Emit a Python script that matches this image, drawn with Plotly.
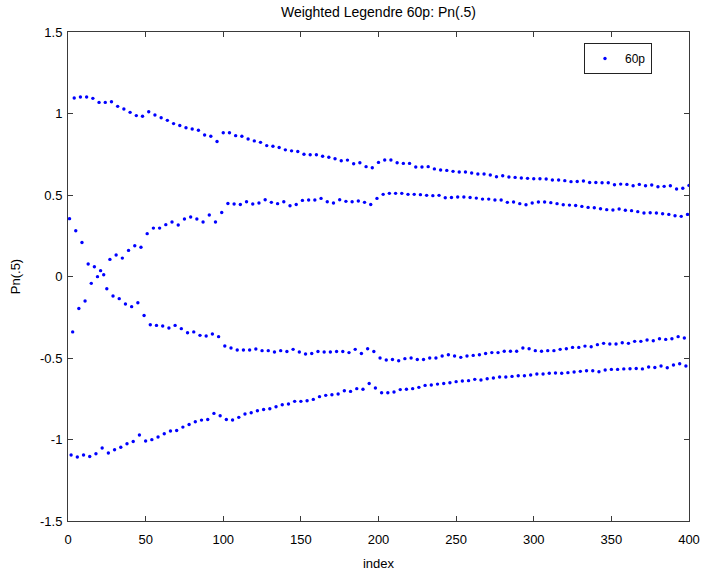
import plotly.graph_objects as go

# Pn(.5) samples split into the four interleaved branches (index n = start, start+4, ...)
top_start = 4
top_vals = [
    1.095, 1.101, 1.101, 1.093, 1.068, 1.068, 1.072, 1.044, 1.028, 1.007,
    0.987, 0.983, 1.011, 0.991, 0.974, 0.958, 0.938, 0.926, 0.913, 0.905,
    0.897, 0.868, 0.860, 0.828,
    0.882, 0.882, 0.864, 0.860, 0.844, 0.832, 0.823, 0.803, 0.799, 0.791,
    0.777, 0.771, 0.767, 0.750, 0.747, 0.747, 0.738, 0.732, 0.722, 0.710,
    0.714, 0.692, 0.698, 0.674, 0.667,
    0.700, 0.715, 0.715, 0.698, 0.694, 0.694, 0.672, 0.672, 0.674, 0.660,
    0.653, 0.651, 0.645, 0.641, 0.641, 0.635, 0.629, 0.629, 0.623, 0.612,
    0.618, 0.610, 0.608, 0.604, 0.602, 0.600, 0.600, 0.598, 0.592, 0.592,
    0.588, 0.582, 0.583, 0.586, 0.577, 0.577, 0.575, 0.575, 0.563, 0.567,
    0.565, 0.557, 0.565, 0.557, 0.561, 0.551, 0.553, 0.557, 0.537, 0.541,
    0.559,
]

rise_start = 3
rise_vals = [
    -0.340, -0.196, -0.150, -0.042, -0.001, 0.011, 0.105, 0.132, 0.113, 0.160,
    0.189, 0.179, 0.263, 0.297, 0.297, 0.318, 0.334, 0.316, 0.353, 0.365,
    0.353, 0.334, 0.377, 0.334,
    0.393, 0.448, 0.445, 0.442, 0.459, 0.445, 0.451, 0.471, 0.455, 0.447,
    0.459, 0.434, 0.442, 0.467, 0.469, 0.469, 0.479, 0.459, 0.451, 0.471,
    0.461, 0.459, 0.463, 0.455, 0.442, 0.479,
    0.504, 0.510, 0.510, 0.510, 0.504, 0.504, 0.502, 0.498, 0.496, 0.498,
    0.483, 0.485, 0.488, 0.488, 0.485, 0.481, 0.475, 0.475, 0.469, 0.469,
    0.455, 0.457, 0.447, 0.440, 0.451, 0.457, 0.457, 0.453, 0.447, 0.440,
    0.438, 0.436, 0.430, 0.424, 0.422, 0.416, 0.410, 0.408, 0.414, 0.406,
    0.404, 0.398, 0.390, 0.391, 0.390, 0.385, 0.381, 0.373, 0.369, 0.381,
]

fall_start = 1
fall_vals = [
    0.355, 0.281, 0.209, 0.077, 0.060, 0.036, -0.075, -0.120, -0.136, -0.169,
    -0.185, -0.161, -0.239, -0.296, -0.300, -0.304, -0.316, -0.300, -0.320, -0.345,
    -0.340, -0.361, -0.365, -0.353, -0.369,
    -0.426, -0.439, -0.451, -0.451, -0.451, -0.445, -0.455, -0.455, -0.463, -0.455,
    -0.460, -0.447, -0.463, -0.475, -0.472, -0.460, -0.463, -0.463, -0.460, -0.460,
    -0.467, -0.447, -0.472, -0.443, -0.460, -0.500,
    -0.512, -0.509, -0.517, -0.504, -0.500, -0.509, -0.509, -0.500, -0.500, -0.488,
    -0.480, -0.488, -0.496, -0.488, -0.484, -0.480, -0.472, -0.467, -0.467, -0.459,
    -0.459, -0.459, -0.439, -0.443, -0.455, -0.459, -0.455, -0.455, -0.447, -0.443,
    -0.435, -0.435, -0.427, -0.431, -0.418, -0.410, -0.414, -0.414, -0.406, -0.410,
    -0.398, -0.398, -0.390, -0.394, -0.382, -0.386, -0.382, -0.369, -0.377,
]

bottom_start = 2
bottom_vals = [
    -1.095, -1.107, -1.095, -1.104, -1.087, -1.052, -1.083, -1.063, -1.048, -1.026,
    -1.012, -0.972, -1.009, -1.001, -0.985, -0.965, -0.948, -0.945, -0.924, -0.908,
    -0.891, -0.881, -0.877, -0.840, -0.854,
    -0.877, -0.880, -0.864, -0.844, -0.836, -0.824, -0.816, -0.811, -0.799, -0.787,
    -0.782, -0.766, -0.766, -0.762, -0.754, -0.737, -0.729, -0.725, -0.721, -0.701,
    -0.705, -0.688, -0.692, -0.656, -0.684,
    -0.713, -0.713, -0.709, -0.694, -0.692, -0.688, -0.680, -0.668, -0.666, -0.660,
    -0.656, -0.652, -0.645, -0.641, -0.639, -0.631, -0.635, -0.627, -0.623, -0.617,
    -0.617, -0.613, -0.609, -0.609, -0.604, -0.598, -0.598, -0.594, -0.592, -0.594,
    -0.590, -0.586, -0.582, -0.578, -0.578, -0.584, -0.574, -0.570, -0.570, -0.567,
    -0.566, -0.564, -0.567, -0.555, -0.558, -0.549, -0.560, -0.543, -0.535, -0.549,
]

y_ticks = [-1.5, -1, -0.5, 0, 0.5, 1, 1.5]
y_tick_text = ["-1.5", "-1", "-0.5", "0", "0.5", "1", "1.5"]
x_ticks = [0, 50, 100, 150, 200, 250, 300, 350, 400]

# merge the branches into one index-ordered series
points = {}
for start, vals in [(top_start, top_vals), (rise_start, rise_vals),
                    (fall_start, fall_vals), (bottom_start, bottom_vals)]:
    for k, v in enumerate(vals):
        points[start + 4 * k] = v
index = sorted(points)
pn = [points[i] for i in index]

FONT = "Liberation Sans, Arial, sans-serif"
AX = "#3a3a3a"

fig = go.Figure()
fig.add_trace(go.Scatter(
    x=index, y=pn, mode="markers", name="60p",
    marker=dict(color="#0000ff", size=3.4, symbol="circle", line=dict(width=0)),
))

fig.update_layout(
    width=701, height=571,
    margin=dict(l=68, r=12, t=32, b=50, autoexpand=False),
    paper_bgcolor="white", plot_bgcolor="white",
    font=dict(family=FONT, size=12, color="black"),
    title=dict(text="Weighted Legendre 60p: Pn(.5)", x=0.5, xref="paper",
               y=1 - 12 / 571, yref="container", yanchor="middle",
               font=dict(family=FONT, size=14, color="black")),
    showlegend=True,
    legend=dict(x=(652 - 68) / 621, y=(521 - 43) / 489, xanchor="right", yanchor="top",
                bgcolor="white", bordercolor="#222", borderwidth=1,
                font=dict(family=FONT, size=12, color="black")),
)
fig.update_xaxes(
    range=[0, 400], tickvals=x_ticks, ticks="inside", ticklen=5, tickcolor=AX,
    showline=True, linecolor=AX, linewidth=1, mirror="ticks",
    showgrid=False, zeroline=False, automargin=False, ticklabelstandoff=6,
    tickfont=dict(family=FONT, size=13, color="black"),
    title=dict(text="index", standoff=16, font=dict(family=FONT, size=13, color="black")),
)
fig.update_yaxes(
    range=[-1.5, 1.5], tickvals=y_ticks, ticktext=y_tick_text,
    ticks="inside", ticklen=5, tickcolor=AX,
    showline=True, linecolor=AX, linewidth=1, mirror="ticks",
    showgrid=False, zeroline=False, automargin=False, ticklabelstandoff=2,
    tickfont=dict(family=FONT, size=13, color="black"),
    title=dict(text="Pn(.5)", standoff=16, font=dict(family=FONT, size=13, color="black")),
)

fig.write_html("out.html")
